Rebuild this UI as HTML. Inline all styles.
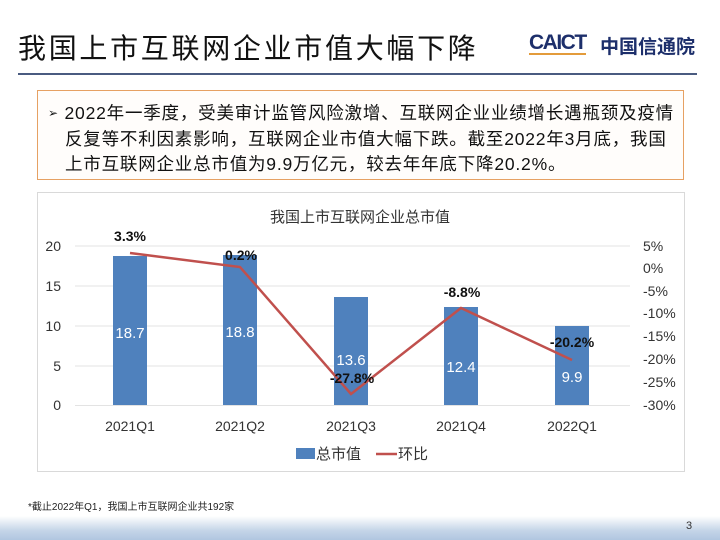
<!DOCTYPE html>
<html><head><meta charset="utf-8"><style>
*{margin:0;padding:0}
body{width:720px;height:540px;background:#fff;position:relative;overflow:hidden;font-family:"Liberation Sans","Noto Sans CJK SC",sans-serif}
.a{position:absolute;white-space:nowrap}
.t{font-size:17.5px;color:#111;letter-spacing:0.8px}
</style></head><body>
<div class="a" style="left:18px;top:27px;font-size:28px;color:#111;letter-spacing:2.7px">我国上市互联网企业市值大幅下降</div>
<div class="a" style="left:529px;top:33px;font-size:21px;font-weight:bold;color:#1d2f6b;letter-spacing:-1.5px;border-bottom:2px solid #e39b3b;line-height:20px">CAICT</div>
<div class="a" style="left:600px;top:32px;font-size:19px;font-weight:bold;color:#1d2f6b">中国信通院</div>
<div class="a" style="left:18px;top:73px;width:679px;height:2px;background:#4a5b80"></div>
<div class="a" style="left:37px;top:90px;width:645px;height:88px;border:1px solid #e6a163;background:#fffdfb"></div>
<div class="a t" style="left:48px;top:100px"><span style="font-size:12px;position:relative;top:-2px">➢</span> 2022年一季度，受美审计监管风险激增、互联网企业业绩增长遇瓶颈及疫情</div>
<div class="a t" style="left:65px;top:126px">反复等不利因素影响，互联网企业市值大幅下跌。截至2022年3月底，我国</div>
<div class="a t" style="left:65px;top:151px">上市互联网企业总市值为9.9万亿元，较去年年底下降20.2%。</div>
<svg class="a" style="left:0;top:0" width="720" height="540" font-family="Liberation Sans, Noto Sans CJK SC, sans-serif">
<rect x="37.5" y="192.5" width="647" height="279" fill="#fff" stroke="#d9d9d9"/>
<text x="360" y="222" font-size="15" text-anchor="middle" fill="#333">我国上市互联网企业总市值</text>
<g stroke="#e3e3e3" stroke-width="1">
<line x1="75" x2="630" y1="246" y2="246"/><line x1="75" x2="630" y1="286" y2="286"/><line x1="75" x2="630" y1="326" y2="326"/><line x1="75" x2="630" y1="366" y2="366"/><line x1="75" x2="630" y1="405.5" y2="405.5"/></g>
<g font-size="14" fill="#333" text-anchor="end"><text x="61" y="251">20</text><text x="61" y="291">15</text><text x="61" y="331">10</text><text x="61" y="371">5</text><text x="61" y="410">0</text></g>
<g font-size="14" fill="#333"><text x="643" y="251">5%</text><text x="643" y="273">0%</text><text x="643" y="296">-5%</text><text x="643" y="318">-10%</text><text x="643" y="341">-15%</text><text x="643" y="364">-20%</text><text x="643" y="387">-25%</text><text x="643" y="410">-30%</text></g>
<g fill="#4f81bd"><rect x="113" y="256" width="34" height="149"/><rect x="223" y="255" width="34" height="150"/><rect x="334" y="297" width="34" height="108"/><rect x="444" y="307" width="34" height="98"/><rect x="555" y="326" width="34" height="79"/></g>
<g font-size="15" fill="#fff" text-anchor="middle"><text x="130" y="338">18.7</text><text x="240" y="337">18.8</text><text x="351" y="365">13.6</text><text x="461" y="372">12.4</text><text x="572" y="382">9.9</text></g>
<polyline points="130,253 240,267 351,394 461,308 572,360" fill="none" stroke="#c0504d" stroke-width="2.5"/>
<g font-size="14" font-weight="bold" fill="#111" text-anchor="middle"><text x="130" y="241">3.3%</text><text x="241" y="260">0.2%</text><text x="352" y="383">-27.8%</text><text x="462" y="297">-8.8%</text><text x="572" y="347">-20.2%</text></g>
<g font-size="14" fill="#333" text-anchor="middle"><text x="130" y="431">2021Q1</text><text x="240" y="431">2021Q2</text><text x="351" y="431">2021Q3</text><text x="461" y="431">2021Q4</text><text x="572" y="431">2022Q1</text></g>
<rect x="296" y="448" width="19" height="11" fill="#4f81bd"/>
<text x="316" y="459" font-size="15" fill="#333">总市值</text>
<line x1="376" x2="397" y1="454" y2="454" stroke="#c0504d" stroke-width="2.5"/>
<text x="398" y="459" font-size="15" fill="#333">环比</text>
<text x="28" y="510" font-size="10" fill="#222">*截止2022年Q1，我国上市互联网企业共192家</text>
</svg>
<div class="a" style="left:0;top:516px;width:720px;height:24px;background:linear-gradient(#ffffff,#c5d5e8 60%,#b0c6e0)"></div>
<div class="a" style="left:686px;top:520px;font-size:11px;color:#333">3</div>
</body></html>
